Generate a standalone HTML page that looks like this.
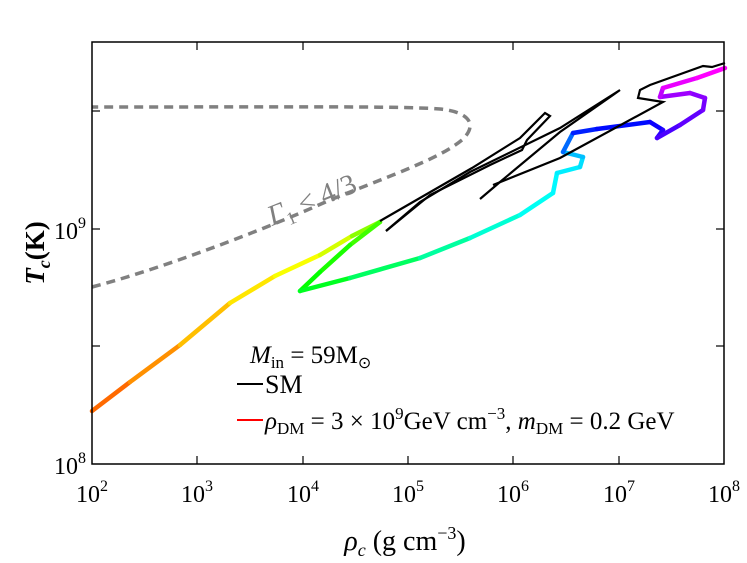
<!DOCTYPE html>
<html><head><style>
body{margin:0;background:#fff;}
svg{font-family:"Liberation Serif",serif;}
</style></head><body>
<svg id="s" width="747" height="558" viewBox="0 0 747 558" xmlns="http://www.w3.org/2000/svg">
<rect x="0" y="0" width="747" height="558" fill="#fff"/>
<path d="M92,287 C150,272 250,236 330,200 C400,172 440,158 462,140 C478,125 470,112 440,109 C400,106 300,107 92,107" fill="none" stroke="#808080" stroke-width="3.5" stroke-dasharray="9,6"/>
<text x="272" y="226" transform="rotate(-22 272 226)" font-size="29" fill="#808080"><tspan font-style="italic">Γ</tspan><tspan font-size="18" dy="6">1</tspan><tspan dy="-6"> &lt; 4/3</tspan></text>
<g id="col"></g>
<path d="M380,221 L472,168 L520,138 L545,113 L550,116 L527,140 L522,150 L490,165 L430,195 L386,231" fill="none" stroke="#000" stroke-width="2.2"/>
<path d="M386,231 L420,202 L470,172 L560,128 L620,90 L613,95 L560,132 L500,182 L480,199" fill="none" stroke="#000" stroke-width="2.2"/>
<path d="M493,185 L560,158 L663,102 L638,98 L640,90 L650,85 L703,66 L712,67 L725,63" fill="none" stroke="#000" stroke-width="2.2"/>
<rect x="92" y="42" width="632" height="422" fill="none" stroke="#000" stroke-width="1.5"/>
<g stroke="#000" stroke-width="1.2">
<line x1="197" y1="464" x2="197" y2="456"/><line x1="303" y1="464" x2="303" y2="456"/><line x1="408" y1="464" x2="408" y2="456"/><line x1="513" y1="464" x2="513" y2="456"/><line x1="619" y1="464" x2="619" y2="456"/>
<line x1="197" y1="42" x2="197" y2="50"/><line x1="303" y1="42" x2="303" y2="50"/><line x1="408" y1="42" x2="408" y2="50"/><line x1="513" y1="42" x2="513" y2="50"/><line x1="619" y1="42" x2="619" y2="50"/>
<line x1="92" y1="346" x2="100" y2="346"/><line x1="92" y1="229" x2="100" y2="229"/><line x1="92" y1="111" x2="100" y2="111"/>
<line x1="724" y1="346" x2="716" y2="346"/><line x1="724" y1="229" x2="716" y2="229"/><line x1="724" y1="111" x2="716" y2="111"/>
</g>
<g font-size="24" text-anchor="middle">
<text x="92" y="502">10<tspan font-size="16" dy="-11">2</tspan></text>
<text x="197" y="502">10<tspan font-size="16" dy="-11">3</tspan></text>
<text x="303" y="502">10<tspan font-size="16" dy="-11">4</tspan></text>
<text x="408" y="502">10<tspan font-size="16" dy="-11">5</tspan></text>
<text x="513" y="502">10<tspan font-size="16" dy="-11">6</tspan></text>
<text x="619" y="502">10<tspan font-size="16" dy="-11">7</tspan></text>
<text x="724" y="502">10<tspan font-size="16" dy="-11">8</tspan></text>
</g>
<g font-size="24" text-anchor="end">
<text x="86" y="474">10<tspan font-size="16" dy="-11">8</tspan></text>
<text x="86" y="239">10<tspan font-size="16" dy="-11">9</tspan></text>
</g>
<text x="405" y="550" font-size="28" text-anchor="middle"><tspan font-style="italic">ρ</tspan><tspan font-size="18" font-style="italic" dy="6">c</tspan><tspan dy="-6"> (g cm</tspan><tspan font-size="18" dy="-11">−3</tspan><tspan dy="11">)</tspan></text>
<text transform="translate(44 253) rotate(-90)" font-size="27" text-anchor="middle" font-weight="bold"><tspan font-style="italic">T</tspan><tspan font-size="18" font-style="italic" dy="6">c</tspan><tspan dy="-6">(K)</tspan></text>
<text x="250" y="363" font-size="25"><tspan font-style="italic">M</tspan><tspan font-size="17" dy="5">in</tspan><tspan dy="-5"> = 59M</tspan><tspan font-size="16" dy="5">⊙</tspan></text>
<line x1="237" y1="384" x2="263" y2="384" stroke="#000" stroke-width="2"/>
<text x="265" y="393" font-size="26">SM</text>
<line x1="237" y1="420" x2="263" y2="420" stroke="#f00" stroke-width="2"/>
<text x="265" y="429" font-size="25"><tspan font-style="italic">ρ</tspan><tspan font-size="17" dy="5">DM</tspan><tspan dy="-5"> = 3 × 10</tspan><tspan font-size="17" dy="-10">9</tspan><tspan dy="10">GeV cm</tspan><tspan font-size="17" dy="-10">−3</tspan><tspan dy="10">, </tspan><tspan font-style="italic">m</tspan><tspan font-size="17" dy="5">DM</tspan><tspan dy="-5"> = 0.2 GeV</tspan></text>
</svg>
<script>
var p=[[92,411],[130,382],[180,345],[230,303],[275,276],[320,255],[352,236],[380,222],[350,245],[320,272],[300,291],[350,278],[420,258],[470,238],[520,215],[553,193],[557,173],[580,167],[583,157],[563,152],[573,133],[597,129],[650,122],[663,130],[657,138],[680,125],[703,110],[705,98],[690,93],[660,97],[663,88],[697,78],[725,68]];
var H=[22,28,40,50,58,65,75,100,110,118,120,135,150,165,175,180,183,185,190,200,230,235,240,245,255,260,265,270,275,280,290,300,300];
var g=document.getElementById('col'),h='';
for(var i=1;i<p.length;i++){var hue=(H[i-1]+H[i])/2;
h+='<line x1="'+p[i-1][0]+'" y1="'+p[i-1][1]+'" x2="'+p[i][0]+'" y2="'+p[i][1]+'" stroke="hsl('+hue+',100%,50%)" stroke-width="4.5" stroke-linecap="round"/>';}
g.innerHTML=h;
</script>
</body></html>
